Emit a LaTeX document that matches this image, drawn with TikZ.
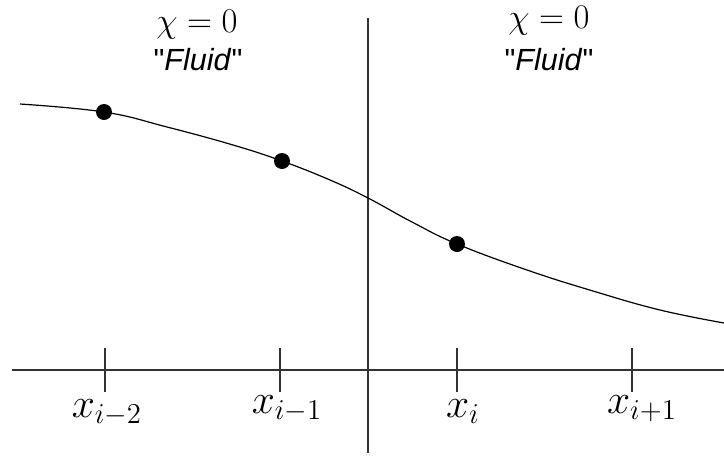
\documentclass[tikz,border=0pt]{standalone}
\usepackage{fontspec}
\newfontfamily\helv{Liberation Sans}
\begin{document}
\begin{tikzpicture}[x=0.5pt,y=-0.5pt,
  axisline/.style={line width=0.55pt, black!80},
  curveline/.style={line width=0.6pt, black},
  dotnode/.style={circle, fill=black, inner sep=0pt, minimum size=8pt},
  ticklabel/.style={anchor=base, font=\fontsize{20}{24}\selectfont},
  chilabel/.style={anchor=base, font=\fontsize{16.5}{20}\selectfont},
  fluidlabel/.style={anchor=base, font=\fontsize{15.3}{19}\selectfont\helv}]
\useasboundingbox (0,0) rectangle (724,456);
% axis
\coordinate (axL) at (12,370);
\coordinate (axR) at (724,370);
\draw[axisline] (axL) -- (axR);
\coordinate (vT) at (368,18);
\coordinate (vB) at (368,453);
\draw[axisline] (vT) -- (vB);
% ticks
\foreach \n/\x in {a/105,b/280,c/457,d/632}{
  \coordinate (t\n T) at (\x,348);
  \coordinate (t\n B) at (\x,392);
  \draw[axisline] (t\n T) -- (t\n B);
}
\node[ticklabel] (la) at (107,417) {$x_{i-2}$};
\node[ticklabel] (lb) at (287,413) {$x_{i-1}$};
\node[ticklabel] (lc) at (463,417) {$x_i$};
\node[ticklabel] (ld) at (642,413) {$x_{i+1}$};
% texts
\node[chilabel] (chiL) at (197,32) {$\chi=0$};
\node[chilabel] (chiR) at (549,28) {$\chi=0$};
\node[fluidlabel] (fluL) at (198,70) {"\textit{Fluid}"};
\node[fluidlabel] (fluR) at (549,70) {"\textit{Fluid}"};
% curve
\coordinate (p1) at (104,112);
\coordinate (p2) at (282,161);
\coordinate (p3) at (457,244);
\draw[curveline] plot[smooth, tension=0.7] coordinates {(20,104) (104,112) (167,127) (233,145) (282,161) (330,180) (368,198) (412,222) (457,244) (527,270) (593,291) (660,310) (724,323)};
\node[dotnode] (d1) at (p1) {};
\node[dotnode] (d2) at (p2) {};
\node[dotnode] (d3) at (p3) {};
\end{tikzpicture}
\end{document}
